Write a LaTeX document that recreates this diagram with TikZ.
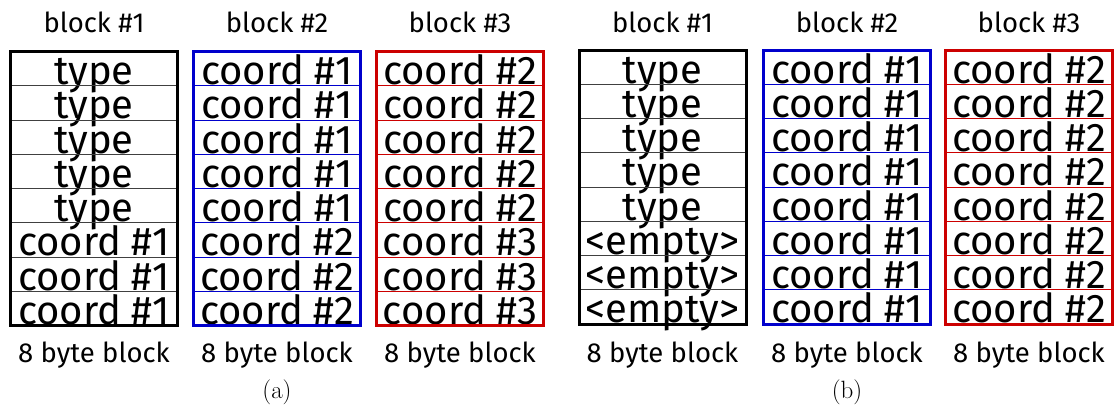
\documentclass[tikz,border=0pt]{standalone}
\usepackage{fontspec}
\setmainfont{Fira Sans}
\newfontfamily\capfont{Latin Modern Roman}
\definecolor{myblue}{RGB}{0,0,204}
\definecolor{myred}{RGB}{204,0,0}
\newcommand\blk[6]{%
  \foreach \t [count=\i] in {#6} {
    \node[cell, draw=#5] (#1-\i) at (#2, {#3+34.25*(\i-0.5)}) {\t};
  }
  \draw[frame, draw=#4] (#1-1.north west) rectangle (#1-8.south east);
}
\begin{document}
\begin{tikzpicture}[x=1pt,y=-1pt,
  cell/.style={line width=0.9pt, minimum width=167pt, minimum height=34.25pt,
    inner sep=0pt, outer sep=0pt, text height=33pt, text depth=1.25pt,
    font=\fontsize{40}{40}\selectfont},
  frame/.style={line width=3pt},
  lbl/.style={font=\fontsize{27.5}{27.5}\selectfont, anchor=base},
  captxt/.style={font=\capfont\fontsize{25}{25}\selectfont, anchor=base}]
\useasboundingbox (0,0) rectangle (1117,408);
% (a)
\blk{aA}{94}{51.5}{black}{black!75}{type,type,type,type,type,coord \#1,coord \#1,coord \#1}
\blk{aB}{277}{51.5}{myblue}{myblue}{coord \#1,coord \#1,coord \#1,coord \#1,coord \#1,coord \#2,coord \#2,coord \#2}
\blk{aC}{460}{51.5}{myred}{myred}{coord \#2,coord \#2,coord \#2,coord \#2,coord \#2,coord \#3,coord \#3,coord \#3}
% (b)
\blk{bA}{662.5}{50}{black}{black!75}{type,type,type,type,type,<empty>,<empty>,<empty>}
\blk{bB}{847}{50}{myblue}{myblue}{coord \#1,coord \#1,coord \#1,coord \#1,coord \#1,coord \#1,coord \#1,coord \#1}
\blk{bC}{1029}{50}{myred}{myred}{coord \#2,coord \#2,coord \#2,coord \#2,coord \#2,coord \#2,coord \#2,coord \#2}
% labels
\node[lbl] (taA) at (94,32) {block \#1};
\node[lbl] (taB) at (277,32) {block \#2};
\node[lbl] (taC) at (460,32) {block \#3};
\node[lbl] (tbA) at (662.5,32) {block \#1};
\node[lbl] (tbB) at (847,32) {block \#2};
\node[lbl] (tbC) at (1029,32) {block \#3};
\node[lbl] (saA) at (94,362) {8 byte block};
\node[lbl] (saB) at (277,362) {8 byte block};
\node[lbl] (saC) at (460,362) {8 byte block};
\node[lbl] (sbA) at (662.5,362) {8 byte block};
\node[lbl] (sbB) at (847,362) {8 byte block};
\node[lbl] (sbC) at (1029,362) {8 byte block};
\node[captxt] (capa) at (277,398) {(a)};
\node[captxt] (capb) at (847,398) {(b)};
\end{tikzpicture}
\end{document}
